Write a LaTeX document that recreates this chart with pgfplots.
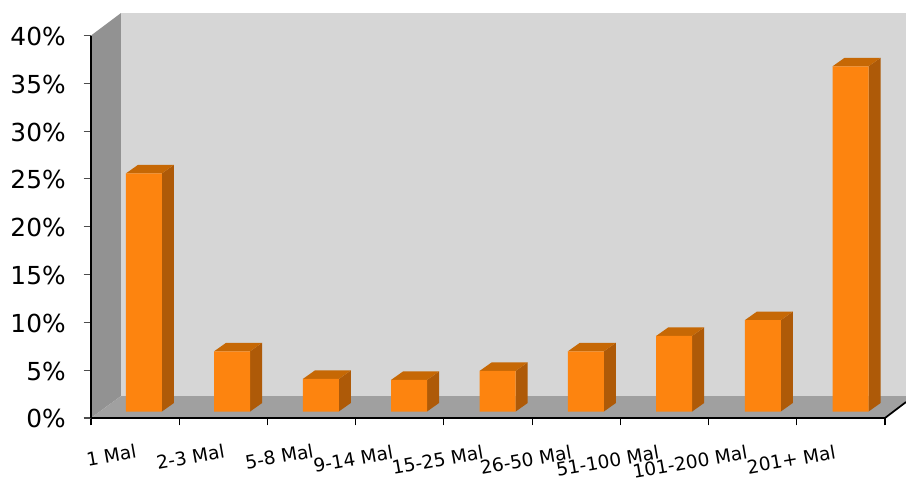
\documentclass[border=0pt]{standalone}
\usepackage{fontspec}
\setmainfont{DejaVu Sans}
\usepackage{pgfplots}
\usepackage{pgfplotstable}
\pgfplotsset{compat=1.18}

% 1 px of the reference = 0.75pt here
\definecolor{frontc}{HTML}{FD840F}
\definecolor{sidec}{HTML}{AE5A08}
\definecolor{topc}{HTML}{C66805}
\definecolor{backc}{HTML}{D6D6D6}
\definecolor{leftc}{HTML}{929292}
\definecolor{floorc}{HTML}{A0A0A0}

\pgfplotstableread{
x     v
0.6   24.9
1.6   6.3
2.605 3.4
3.605 3.3
4.61  4.25
5.61  6.3
6.61  7.9
7.615 9.55
8.61  36.1
}\datatable

\begin{document}
\begin{tikzpicture}
\useasboundingbox (0,0) rectangle (679.5pt,360pt);
\begin{axis}[
    at={(68.25pt,46.5pt)}, anchor=origin,
    scale only axis, width=595.5pt, height=286.875pt,
    xmin=0, xmax=9, ymin=0, ymax=40,
    clip=false, axis on top,
    axis x line*=bottom, axis y line*=left,
    axis line style={line width=1.3pt, black},
    xtick={0,...,9},
    xticklabels={1 Mal\hspace*{-5pt},2-3 Mal\hspace*{-5pt},5-8 Mal\hspace*{-5.5pt},9-14 Mal\hspace*{1pt},15-25 Mal\hspace*{-0.5pt},26-50 Mal\hspace*{-0.5pt},51-100 Mal,101-200 Mal,201+ Mal},
    ytick={0,5,...,40},
    yticklabel={\pgfmathprintnumber{\tick}\%},
    tick align=outside,
    x tick style={black, line width=0.8pt},
    y tick style={black!70, line width=0.8pt},
    major tick length=5.5pt,
    /pgf/number format/assume math mode=true,
    y tick label style={font=\fontsize{18.6pt}{20pt}\selectfont, xshift=-10pt, yshift=-0.7pt},
    x tick label style={font=\fontsize{13.9pt}{16pt}\selectfont, rotate=10,
        anchor=east, xshift=28.5pt, yshift=-24.5pt},
]
% walls and floor
\addplot[fill=backc, draw=none] coordinates {(0.34,2.3) (0.34,42.35) (9.238,42.35) (9.238,2.3)} -- cycle;
\addplot[fill=leftc, draw=none] coordinates {(0,0) (0,40) (0.34,42.35) (0.34,2.3)} -- cycle;
\addplot[fill=floorc, draw=none] coordinates {(0,0) (0.34,2.3) (9.238,2.3) (9.238,1.67) (9,0)} -- cycle;
\addplot[black, line width=1.3pt] coordinates {(9,0) (9.238,1.67)};

% side and top of each bar
\foreach \i in {0,...,8}{
    \pgfplotstablegetelem{\i}{x}\of\datatable \let\xc\pgfplotsretval
    \pgfplotstablegetelem{\i}{v}\of\datatable \let\vc\pgfplotsretval
    \pgfmathsetmacro\xl{\xc-0.204}
    \pgfmathsetmacro\xr{\xc+0.204}
    \pgfmathsetmacro\xlb{\xl+0.136}
    \pgfmathsetmacro\xrb{\xr+0.136}
    \pgfmathsetmacro\yt{\vc+0.68}
    \pgfmathsetmacro\ytb{\yt+0.889}
    \edef\temp{
        \noexpand\addplot[fill=sidec, draw=none] coordinates {(\xr,0.68) (\xr,\yt) (\xrb,\ytb) (\xrb,1.569)} -- cycle;
        \noexpand\addplot[fill=topc, draw=none] coordinates {(\xl,\yt) (\xlb,\ytb) (\xrb,\ytb) (\xr,\yt)} -- cycle;
    }
    \temp
}

% front of the bars, on the raised floor line
\addplot[ybar, bar width=27pt, bar shift=0pt, fill=frontc, draw=none, yshift=4.875pt]
    table[x=x, y=v] {\datatable};
\end{axis}
\end{tikzpicture}
\end{document}
